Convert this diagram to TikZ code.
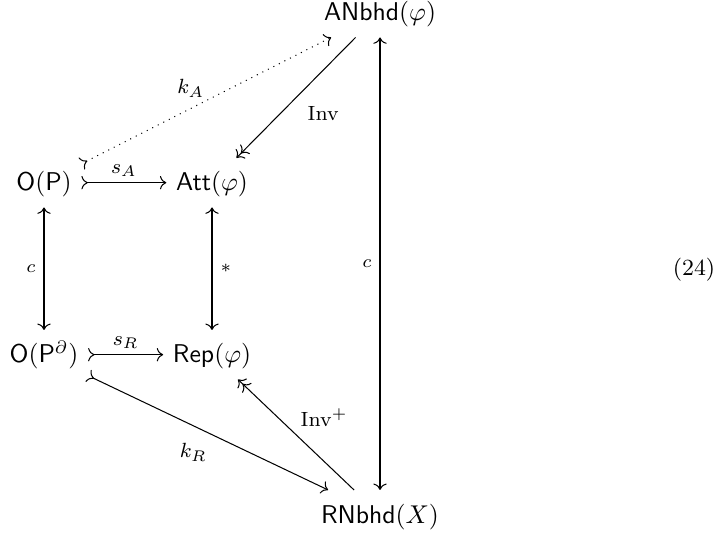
\documentclass[tikz,border=0pt]{standalone}
\usetikzlibrary{arrows.meta}
\begin{document}
\begin{tikzpicture}[x=0.389pt,y=-0.389pt,
  >={Computer Modern Rightarrow},
  obj/.style={anchor=base,inner sep=0.36em,text height=2.1ex,text depth=0.6ex},
  lab/.style={font=\footnotesize,inner sep=0pt},
  slab/.style={font=\scriptsize,inner sep=0pt},
  cd/.style={line width=0.4pt}]
\useasboundingbox (0,0) rectangle (718,538);
\node[obj] (AN)  at (380,21)  {$\mathsf{ANbhd}(\varphi)$};
\node[obj] (OP)  at (44,191)  {$\mathsf{O}(\mathsf{P})$};
\node[obj] (Att) at (212,191) {$\mathsf{Att}(\varphi)$};
\node[obj] (OPd) at (44,363)  {$\mathsf{O}(\mathsf{P}^{\partial})$};
\node[obj] (Rep) at (212,363) {$\mathsf{Rep}(\varphi)$};
\node[obj] (RN)  at (380,523) {$\mathsf{RNbhd}(X)$};
\node[font=\small] (eq) at (694,270) {(24)};

\draw[cd,>->] (OP) -- node[lab,shift={(0,-12)}] {$s_A$} (Att);
\draw[cd,>->] (OPd) -- node[lab,shift={(0,-12)}] {$s_R$} (Rep);
\draw[cd,<->] (OP) -- node[slab,shift={(-13,0)}] {$c$} (OPd);
\draw[cd,<->] (Att) -- node[slab,shift={(14,0)}] {$*$} (Rep);
\draw[cd,<->] (AN) -- node[slab,shift={(-13,0)}] {$c$} (RN);
\draw[cd,->>] (AN) -- node[lab,pos=0.455,shift={(22,21)}] {$\mathrm{Inv}$} (Att);
\draw[cd,->>] (RN) -- node[lab,pos=0.455,shift={(23,-22)}] {$\mathrm{Inv}^{+}$} (Rep);
\draw[cd,dotted,>->] (OP) -- node[lab,pos=0.47,shift={(-8,-16)}] {$k_A$} (AN);
\draw[cd,>->] (OPd) -- node[lab,pos=0.48,shift={(-10,22)}] {$k_R$} (RN);
\end{tikzpicture}
\end{document}
